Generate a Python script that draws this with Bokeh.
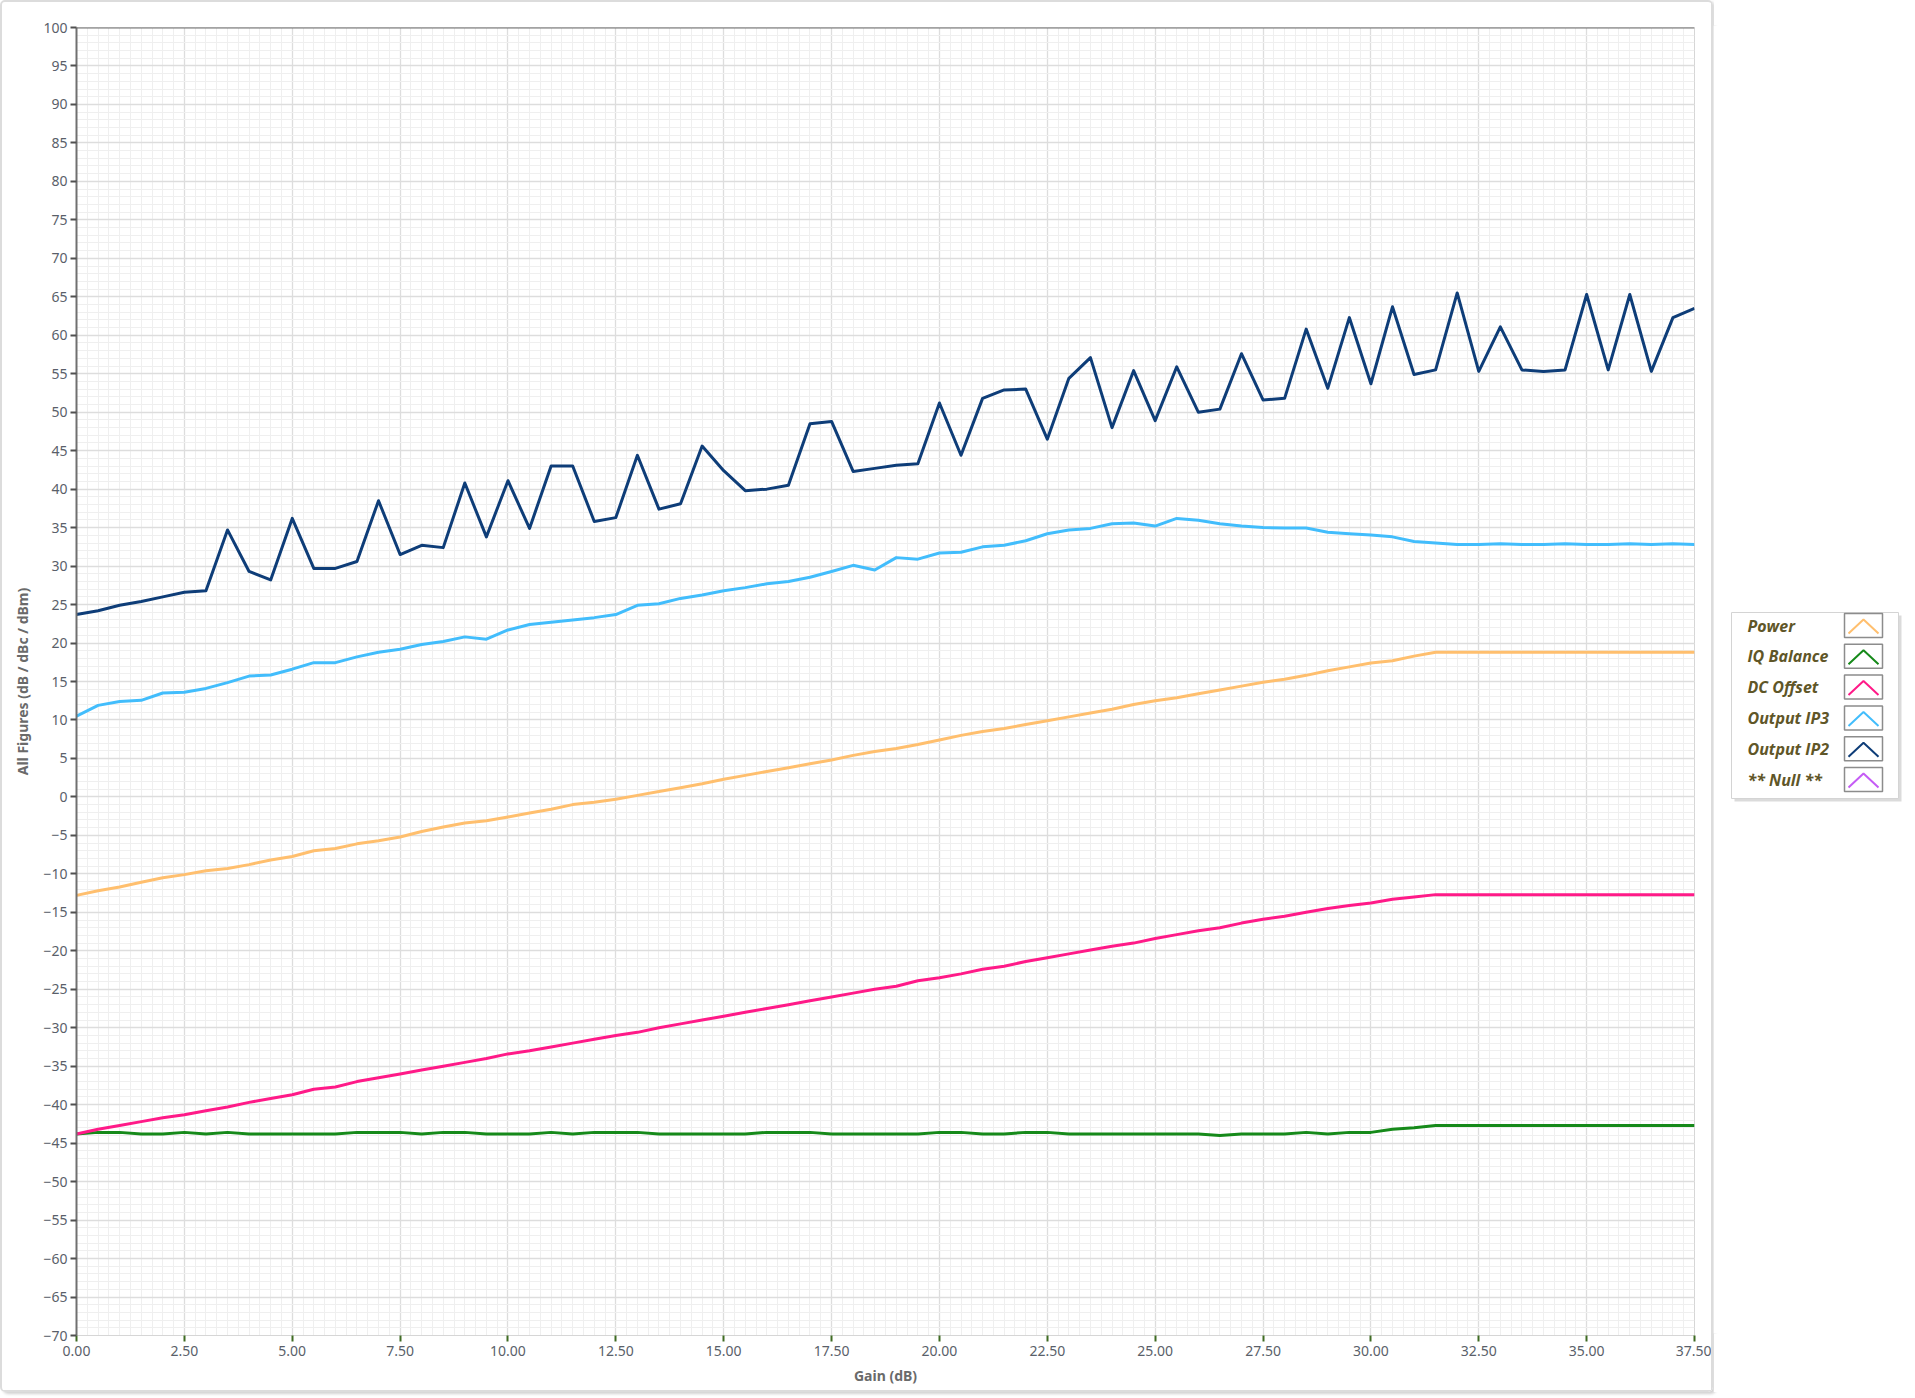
from bokeh.plotting import figure
from bokeh.models import Range1d, FixedTicker, PrintfTickFormatter, Span
from bokeh.layouts import row
from bokeh.core.properties import value
from bokeh.embed import file_html
from bokeh.resources import INLINE

# ---------------- data ----------------
gain = [0.0, 0.5, 1.0, 1.5, 2.0, 2.5, 3.0, 3.5, 4.0, 4.5, 5.0, 5.5, 6.0, 6.5, 7.0, 7.5,
        8.0, 8.5, 9.0, 9.5, 10.0, 10.5, 11.0, 11.5, 12.0, 12.5, 13.0, 13.5, 14.0, 14.5,
        15.0, 15.5, 16.0, 16.5, 17.0, 17.5, 18.0, 18.5, 19.0, 19.5, 20.0, 20.5, 21.0,
        21.5, 22.0, 22.5, 23.0, 23.5, 24.0, 24.5, 25.0, 25.5, 26.0, 26.5, 27.0, 27.5,
        28.0, 28.5, 29.0, 29.5, 30.0, 30.5, 31.0, 31.5, 32.0, 32.5, 33.0, 33.5, 34.0,
        34.5, 35.0, 35.5, 36.0, 36.5, 37.0, 37.5]

output_ip2 = [23.7, 24.2, 24.9, 25.4, 26.0, 26.6, 26.8, 34.7, 29.3, 28.2, 36.2, 29.7, 29.7,
              30.6, 38.5, 31.5, 32.7, 32.4, 40.8, 33.8, 41.1, 34.9, 43.0, 43.0, 35.8, 36.3,
              44.4, 37.4, 38.1, 45.6, 42.4, 39.8, 40.0, 40.5, 48.5, 48.8, 42.3, 42.7, 43.1,
              43.3, 51.2, 44.4, 51.8, 52.9, 53.0, 46.5, 54.4, 57.1, 48.0, 55.4, 48.9, 55.9,
              50.0, 50.4, 57.6, 51.6, 51.8, 60.8, 53.1, 62.3, 53.7, 63.7, 54.9, 55.5, 65.5,
              55.3, 61.1, 55.5, 55.3, 55.5, 65.3, 55.5, 65.3, 55.3, 62.3, 63.5]

output_ip3 = [10.5, 11.9, 12.4, 12.55, 13.5, 13.6, 14.1, 14.85, 15.7, 15.85, 16.6, 17.45,
              17.45, 18.2, 18.8, 19.2, 19.8, 20.2, 20.8, 20.5, 21.7, 22.4, 22.7, 23.0, 23.3,
              23.7, 24.9, 25.1, 25.8, 26.25, 26.8, 27.2, 27.7, 28.0, 28.55, 29.3, 30.1, 29.5,
              31.1, 30.9, 31.7, 31.8, 32.5, 32.7, 33.3, 34.2, 34.7, 34.9, 35.5, 35.6, 35.2,
              36.2, 35.95, 35.5, 35.2, 35.0, 34.95, 34.95, 34.4, 34.2, 34.05, 33.8, 33.2,
              33.0, 32.8, 32.8, 32.9, 32.8, 32.8, 32.9, 32.8, 32.8, 32.9, 32.8, 32.9, 32.8]

power = [-12.8, -12.2, -11.7, -11.1, -10.5, -10.1, -9.6, -9.3, -8.8, -8.2, -7.75, -7.0,
         -6.7, -6.1, -5.7, -5.2, -4.5, -3.9, -3.4, -3.1, -2.6, -2.1, -1.6, -1.0, -0.7, -0.3,
         0.2, 0.7, 1.2, 1.7, 2.3, 2.8, 3.3, 3.8, 4.3, 4.8, 5.4, 5.9, 6.3, 6.8, 7.4, 8.0,
         8.5, 8.9, 9.4, 9.9, 10.4, 10.9, 11.4, 12.0, 12.5, 12.9, 13.4, 13.9, 14.4, 14.9,
         15.3, 15.8, 16.4, 16.9, 17.4, 17.7, 18.3, 18.8, 18.8, 18.8, 18.8, 18.8, 18.8,
         18.8, 18.8, 18.8, 18.8, 18.8, 18.8, 18.8]

dc_offset = [-43.8, -43.2, -42.7, -42.2, -41.7, -41.3, -40.8, -40.3, -39.7, -39.2, -38.7,
             -38.0, -37.7, -37.0, -36.5, -36.0, -35.5, -35.0, -34.5, -34.0, -33.4, -33.0,
             -32.5, -32.0, -31.5, -31.0, -30.6, -30.0, -29.5, -29.0, -28.5, -28.0, -27.5,
             -27.0, -26.5, -26.0, -25.5, -25.0, -24.6, -23.9, -23.5, -23.0, -22.4, -22.0,
             -21.4, -20.9, -20.4, -19.9, -19.4, -19.0, -18.4, -17.9, -17.4, -17.0, -16.4,
             -15.9, -15.5, -15.0, -14.5, -14.1, -13.8, -13.3, -13.0, -12.7, -12.7, -12.7,
             -12.7, -12.7, -12.7, -12.7, -12.7, -12.7, -12.7, -12.7, -12.7, -12.7]

iq_balance = [-43.8, -43.6, -43.6, -43.8, -43.8, -43.6, -43.8, -43.6, -43.8, -43.8, -43.8,
              -43.8, -43.8, -43.6, -43.6, -43.6, -43.8, -43.6, -43.6, -43.8, -43.8, -43.8,
              -43.6, -43.8, -43.6, -43.6, -43.6, -43.8, -43.8, -43.8, -43.8, -43.8, -43.6,
              -43.6, -43.6, -43.8, -43.8, -43.8, -43.8, -43.8, -43.6, -43.6, -43.8, -43.8,
              -43.6, -43.6, -43.8, -43.8, -43.8, -43.8, -43.8, -43.8, -43.8, -44.0, -43.8,
              -43.8, -43.8, -43.6, -43.8, -43.6, -43.6, -43.2, -43.0, -42.7, -42.7, -42.7,
              -42.7, -42.7, -42.7, -42.7, -42.7, -42.7, -42.7, -42.7, -42.7, -42.7]

x_ticks = [0.0, 2.5, 5.0, 7.5, 10.0, 12.5, 15.0, 17.5, 20.0, 22.5, 25.0, 27.5, 30.0, 32.5, 35.0, 37.5]
y_ticks = [-70, -65, -60, -55, -50, -45, -40, -35, -30, -25, -20, -15, -10, -5, 0, 5, 10, 15,
           20, 25, 30, 35, 40, 45, 50, 55, 60, 65, 70, 75, 80, 85, 90, 95, 100]

legend_names = ["Power", "IQ Balance", "DC Offset", "Output IP3", "Output IP2", "** Null **"]
legend_colors = ["#ffbf6e", "#168a1a", "#ff1a88", "#42bdfc", "#0e3d78", "#c55cf5"]

# ---------------- main figure ----------------
FONT = "Noto Sans"
H = 1392
BT, BB = 25, 59          # top / bottom borders (shared by both panels of the row)
FH = H - BT - BB         # frame height in px
p = figure(width=1713, height=H, output_backend="svg", toolbar_location=None,
           x_range=Range1d(0, 37.5), y_range=Range1d(-70, 100),
           min_border_left=74, min_border_right=21, min_border_top=BT, min_border_bottom=BB,
           background_fill_color="white", border_fill_color="white")
p.styles = {"border": "2px solid #dcdcdc", "border-radius": "5px",
            "box-shadow": "3px 2px 3px rgba(0,0,0,0.18)"}
p.outline_line_color = "#d6d6d6"
p.outline_line_width = 1

x_minor = [i * 0.25 for i in range(0, 151)]
y_minor = [v for v in range(-70, 101)]
p.xaxis.ticker = FixedTicker(ticks=x_ticks, minor_ticks=x_minor)
p.yaxis.ticker = FixedTicker(ticks=y_ticks, minor_ticks=y_minor)
p.xaxis.formatter = PrintfTickFormatter(format="%.2f")

p.xgrid.grid_line_color = "#dddddd"
p.ygrid.grid_line_color = "#dddddd"
p.xgrid.grid_line_width = 1.3
p.ygrid.grid_line_width = 1.3
p.xgrid.minor_grid_line_color = "#efefef"
p.ygrid.minor_grid_line_color = "#efefef"
p.xgrid.minor_grid_line_width = 1
p.ygrid.minor_grid_line_width = 1

for ax in (p.xaxis, p.yaxis):
    ax.major_label_text_font = FONT
    ax.major_label_text_font_size = "14px"
    ax.major_label_text_color = "#5a5f6a"
    ax.axis_label_text_font = FONT
    ax.axis_label_text_font_size = "14px"
    ax.axis_label_text_font_style = "bold"
    ax.axis_label_text_color = "#6a6a6a"
    ax.minor_tick_line_color = None
    ax.major_tick_in = 0
    ax.major_tick_out = 6
    ax.major_tick_line_width = 2

p.yaxis.axis_label = "All Figures (dB / dBc / dBm)"
p.yaxis.axis_line_color = "#707070"
p.yaxis.axis_line_width = 2
p.yaxis.major_tick_line_color = "#505050"
p.yaxis.major_label_standoff = 3
p.yaxis.axis_label_standoff = 8

p.xaxis.axis_label = "Gain (dB)"
p.xaxis.axis_line_color = "#d6d6d6"
p.xaxis.axis_line_width = 1
p.xaxis.major_tick_line_color = "#3f6b22"
p.xaxis.major_label_standoff = 4
p.xaxis.axis_label_standoff = 7

p.add_layout(Span(location=100, dimension="width", line_color="#707070", line_width=2))

series = [power, iq_balance, dc_offset, output_ip3, output_ip2]
for ys, col in zip(series, legend_colors[:5]):
    p.line(gain, ys, line_color=col, line_width=3, line_join="round")

# ---------------- legend panel (pixel-unit ranges, y downward from frame top) ----------------
LPW = 190
lg = figure(width=LPW, height=H, output_backend="svg", toolbar_location=None,
            x_range=Range1d(0, LPW), y_range=Range1d(FH, 0),
            min_border_left=0, min_border_right=0, min_border_top=BT, min_border_bottom=BB,
            background_fill_color="white", border_fill_color="white")
lg.axis.visible = False
lg.grid.visible = False
lg.outline_line_color = None

BOX_L, BOX_T, BOX_W, BOX_H = 18, 587, 167, 186
# shadow + box
lg.rect(x=[BOX_L + BOX_W / 2 + 3], y=[BOX_T + BOX_H / 2 + 3], width=BOX_W, height=BOX_H,
        fill_color="#bdbdbd", fill_alpha=0.55, line_color=None)
lg.rect(x=[BOX_L + BOX_W / 2], y=[BOX_T + BOX_H / 2], width=BOX_W, height=BOX_H,
        fill_color="white", line_color="#d4d4d4", line_width=1)

row_y = [BOX_T + 13 + i * 30.8 for i in range(len(legend_names))]
lg.text(x=[BOX_L + 16] * len(legend_names), y=row_y, text=legend_names,
        text_baseline="middle", text_align="left",
        text_font=value("Open Sans"), text_font_style="bold italic",
        text_font_size="16px", text_color="#5f5628")
icon_x = BOX_L + 132
lg.rect(x=[icon_x] * len(legend_names), y=row_y, width=38, height=24,
        fill_color="white", line_color="#8c8c8c", line_width=1.5)
lg.multi_line(xs=[[icon_x - 15, icon_x, icon_x + 15] for _ in row_y],
              ys=[[yc + 8, yc - 6, yc + 8] for yc in row_y],
              line_color=legend_colors, line_width=2)

layout = row(p, lg)
open("out.html", "w").write(file_html(layout, INLINE))
